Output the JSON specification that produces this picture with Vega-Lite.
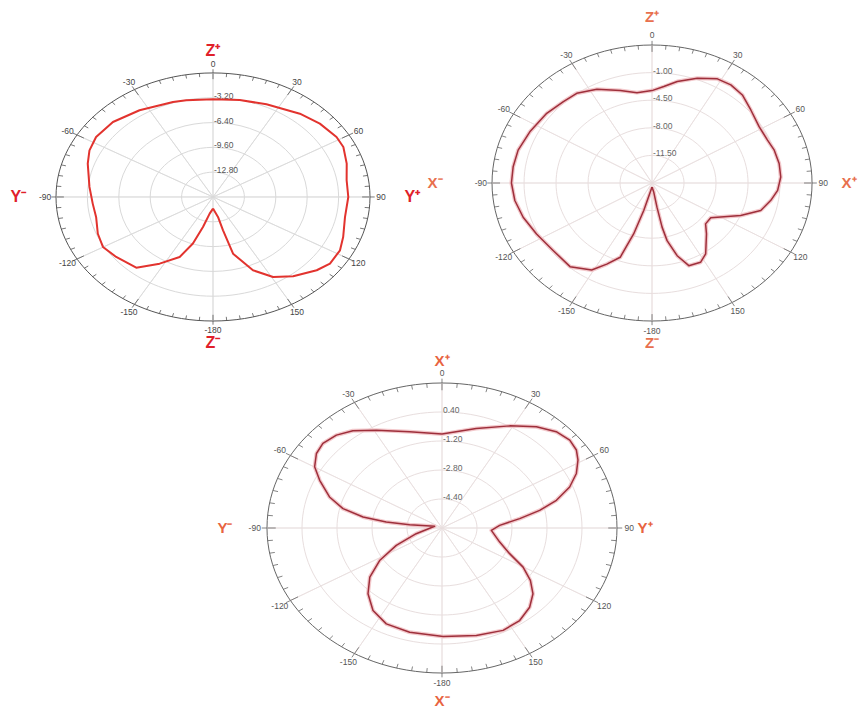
{
  "$schema": "https://vega.github.io/schema/vega-lite/v6.json",
  "datasets": {
    "rings": [{"r": 0.2}, {"r": 0.4}, {"r": 0.6}, {"r": 0.8}, {"r": 1}],
    "ringlabels": [
      {"p": 1, "r": 0.8, "t": "-3.20"}, {"p": 1, "r": 0.6, "t": "-6.40"}, {"p": 1, "r": 0.4, "t": "-9.60"}, {"p": 1, "r": 0.2, "t": "-12.80"},
      {"p": 2, "r": 0.8, "t": "-1.00"}, {"p": 2, "r": 0.6, "t": "-4.50"}, {"p": 2, "r": 0.4, "t": "-8.00"}, {"p": 2, "r": 0.2, "t": "-11.50"},
      {"p": 3, "r": 0.8, "t": "0.40"}, {"p": 3, "r": 0.6, "t": "-1.20"}, {"p": 3, "r": 0.4, "t": "-2.80"}, {"p": 3, "r": 0.2, "t": "-4.40"}
    ],
    "angles": [
      {"a": 0, "t": "0"}, {"a": 30, "t": "30"}, {"a": 60, "t": "60"}, {"a": 90, "t": "90"}, {"a": 120, "t": "120"}, {"a": 150, "t": "150"},
      {"a": 180, "t": "-180"}, {"a": -150, "t": "-150"}, {"a": -120, "t": "-120"}, {"a": -90, "t": "-90"}, {"a": -60, "t": "-60"}, {"a": -30, "t": "-30"}
    ],
    "ticks": [
      {"a": 0}, {"a": 5}, {"a": 10}, {"a": 15}, {"a": 20}, {"a": 25}, {"a": 30}, {"a": 35}, {"a": 40}, {"a": 45}, {"a": 50}, {"a": 55},
      {"a": 60}, {"a": 65}, {"a": 70}, {"a": 75}, {"a": 80}, {"a": 85}, {"a": 90}, {"a": 95}, {"a": 100}, {"a": 105}, {"a": 110}, {"a": 115},
      {"a": 120}, {"a": 125}, {"a": 130}, {"a": 135}, {"a": 140}, {"a": 145}, {"a": 150}, {"a": 155}, {"a": 160}, {"a": 165}, {"a": 170}, {"a": 175},
      {"a": 180}, {"a": 185}, {"a": 190}, {"a": 195}, {"a": 200}, {"a": 205}, {"a": 210}, {"a": 215}, {"a": 220}, {"a": 225}, {"a": 230}, {"a": 235},
      {"a": 240}, {"a": 245}, {"a": 250}, {"a": 255}, {"a": 260}, {"a": 265}, {"a": 270}, {"a": 275}, {"a": 280}, {"a": 285}, {"a": 290}, {"a": 295},
      {"a": 300}, {"a": 305}, {"a": 310}, {"a": 315}, {"a": 320}, {"a": 325}, {"a": 330}, {"a": 335}, {"a": 340}, {"a": 345}, {"a": 350}, {"a": 355}
    ],
    "letters": [
      {"p": 1, "a": 0, "r": 1.18, "t": "Z⁺"}, {"p": 1, "a": 180, "r": 1.18, "t": "Z⁻"}, {"p": 1, "a": -90, "r": 1.24, "t": "Y⁻"}, {"p": 1, "a": 90, "r": 1.27, "t": "Y⁺"},
      {"p": 2, "a": 0, "r": 1.2, "t": "Z⁺"}, {"p": 2, "a": 180, "r": 1.162, "t": "Z⁻"}, {"p": 2, "a": -90, "r": 1.356, "t": "X⁻"}, {"p": 2, "a": 90, "r": 1.231, "t": "X⁺"},
      {"p": 3, "a": 0, "r": 1.155, "t": "X⁺"}, {"p": 3, "a": 180, "r": 1.19, "t": "X⁻"}, {"p": 3, "a": -90, "r": 1.24, "t": "Y⁻"}, {"p": 3, "a": 90, "r": 1.16, "t": "Y⁺"}
    ],
    "curves": [
      {"p": 1, "a": -180, "g": -14.5}, {"p": 1, "a": -171, "g": -13.82}, {"p": 1, "a": -165.2, "g": -12.0}, {"p": 1, "a": -161.2, "g": -9.65},
      {"p": 1, "a": -156.3, "g": -7.54}, {"p": 1, "a": -147.7, "g": -5.82}, {"p": 1, "a": -139.4, "g": -3.98}, {"p": 1, "a": -128.1, "g": -3.46},
      {"p": 1, "a": -119.9, "g": -3.06}, {"p": 1, "a": -112, "g": -3.34}, {"p": 1, "a": -102.2, "g": -3.81}, {"p": 1, "a": -94, "g": -3.71},
      {"p": 1, "a": -84.1, "g": -3.34}, {"p": 1, "a": -71.4, "g": -2.53}, {"p": 1, "a": -64.5, "g": -2.05}, {"p": 1, "a": -57, "g": -1.79},
      {"p": 1, "a": -46.5, "g": -1.94}, {"p": 1, "a": -33.8, "g": -2.54}, {"p": 1, "a": -18.4, "g": -3.09}, {"p": 1, "a": -12.3, "g": -3.23},
      {"p": 1, "a": 0, "g": -3.39}, {"p": 1, "a": 12.3, "g": -3.2}, {"p": 1, "a": 24.5, "g": -2.86}, {"p": 1, "a": 39.5, "g": -2.08},
      {"p": 1, "a": 49, "g": -1.57}, {"p": 1, "a": 58.4, "g": -1.22}, {"p": 1, "a": 64.1, "g": -1.23}, {"p": 1, "a": 72.5, "g": -1.71},
      {"p": 1, "a": 81, "g": -2.21}, {"p": 1, "a": 90, "g": -2.21}, {"p": 1, "a": 100.9, "g": -2.3}, {"p": 1, "a": 111.3, "g": -1.76},
      {"p": 1, "a": 118, "g": -1.34}, {"p": 1, "a": 125.8, "g": -1.3}, {"p": 1, "a": 131.8, "g": -1.82}, {"p": 1, "a": 141.4, "g": -2.9},
      {"p": 1, "a": 149.3, "g": -4.0}, {"p": 1, "a": 156.7, "g": -5.7}, {"p": 1, "a": 164.4, "g": -8.4}, {"p": 1, "a": 166.6, "g": -11.58},
      {"p": 1, "a": 168.8, "g": -13.38}, {"p": 1, "a": 180, "g": -14.5},

      {"p": 2, "a": -180, "g": -14.48}, {"p": 2, "a": -165.4, "g": -11.4}, {"p": 2, "a": -162.7, "g": -8.23}, {"p": 2, "a": -159.7, "g": -4.96},
      {"p": 2, "a": -154.3, "g": -3.59}, {"p": 2, "a": -149.1, "g": -2.14}, {"p": 2, "a": -139.8, "g": -1.11}, {"p": 2, "a": -128.5, "g": -1.21},
      {"p": 2, "a": -117.1, "g": -0.81}, {"p": 2, "a": -107.1, "g": -0.25}, {"p": 2, "a": -98.4, "g": 0.17}, {"p": 2, "a": -90, "g": 0.38},
      {"p": 2, "a": -82.3, "g": 0.33}, {"p": 2, "a": -74.1, "g": 0.23}, {"p": 2, "a": -64.1, "g": -0.14}, {"p": 2, "a": -52.5, "g": -0.48},
      {"p": 2, "a": -43.2, "g": -0.84}, {"p": 2, "a": -35.9, "g": -0.95}, {"p": 2, "a": -26.9, "g": -1.67}, {"p": 2, "a": -16.5, "g": -2.77},
      {"p": 2, "a": -8.2, "g": -3.42}, {"p": 2, "a": 0, "g": -3.28}, {"p": 2, "a": 6, "g": -2.7}, {"p": 2, "a": 12.1, "g": -1.84},
      {"p": 2, "a": 20.4, "g": -0.81}, {"p": 2, "a": 28.4, "g": 0.02}, {"p": 2, "a": 34.7, "g": 0.14}, {"p": 2, "a": 41.5, "g": -0.09},
      {"p": 2, "a": 49.4, "g": -0.77}, {"p": 2, "a": 58.6, "g": -1.28}, {"p": 2, "a": 66.7, "g": -1.25}, {"p": 2, "a": 72.7, "g": -1.0},
      {"p": 2, "a": 79.9, "g": -0.88}, {"p": 2, "a": 86.9, "g": -0.9}, {"p": 2, "a": 93.9, "g": -1.23}, {"p": 2, "a": 99.6, "g": -1.82},
      {"p": 2, "a": 106.3, "g": -2.61}, {"p": 2, "a": 113, "g": -4.47}, {"p": 2, "a": 124.5, "g": -7.21}, {"p": 2, "a": 131.5, "g": -7.18},
      {"p": 2, "a": 137.3, "g": -6.22}, {"p": 2, "a": 146.9, "g": -4.26}, {"p": 2, "a": 152.2, "g": -3.63}, {"p": 2, "a": 159, "g": -3.77},
      {"p": 2, "a": 163.4, "g": -5.38}, {"p": 2, "a": 167.3, "g": -7.51}, {"p": 2, "a": 168.9, "g": -9.3}, {"p": 2, "a": 170, "g": -11.89},
      {"p": 2, "a": 171, "g": -13.85}, {"p": 2, "a": 180, "g": -14.48},

      {"p": 3, "a": 0, "g": -0.82}, {"p": 3, "a": 15.9, "g": -0.29}, {"p": 3, "a": 28.8, "g": 0.43}, {"p": 3, "a": 37.7, "g": 1.06},
      {"p": 3, "a": 44.5, "g": 1.45}, {"p": 3, "a": 50.3, "g": 1.59}, {"p": 3, "a": 55, "g": 1.5}, {"p": 3, "a": 58.9, "g": 1.26},
      {"p": 3, "a": 63.9, "g": 0.84}, {"p": 3, "a": 68.8, "g": 0.26}, {"p": 3, "a": 73.7, "g": -0.55}, {"p": 3, "a": 77.7, "g": -1.43},
      {"p": 3, "a": 81.7, "g": -2.41}, {"p": 3, "a": 86.9, "g": -3.36}, {"p": 3, "a": 93.3, "g": -3.74}, {"p": 3, "a": 106.4, "g": -3.25},
      {"p": 3, "a": 114.6, "g": -2.6}, {"p": 3, "a": 120.2, "g": -1.71}, {"p": 3, "a": 125.6, "g": -1.03}, {"p": 3, "a": 131.1, "g": -0.48},
      {"p": 3, "a": 137.5, "g": -0.07}, {"p": 3, "a": 145.2, "g": 0.22}, {"p": 3, "a": 153.7, "g": 0.3}, {"p": 3, "a": 165.2, "g": 0.14},
      {"p": 3, "a": 179.5, "g": -0.01}, {"p": 3, "a": -165.6, "g": -0.06}, {"p": 3, "a": -154.3, "g": -0.13}, {"p": 3, "a": -145.3, "g": -0.46},
      {"p": 3, "a": -137, "g": -1.04}, {"p": 3, "a": -129.4, "g": -1.73}, {"p": 3, "a": -122.2, "g": -2.63}, {"p": 3, "a": -114.7, "g": -3.7},
      {"p": 3, "a": -104.9, "g": -4.78}, {"p": 3, "a": -74, "g": -5.65}, {"p": 3, "a": -82.9, "g": -4.51}, {"p": 3, "a": -82.7, "g": -3.43},
      {"p": 3, "a": -80.4, "g": -2.34}, {"p": 3, "a": -76.7, "g": -1.35}, {"p": 3, "a": -71.6, "g": -0.58}, {"p": 3, "a": -64.8, "g": 0.18},
      {"p": 3, "a": -59.9, "g": 0.73}, {"p": 3, "a": -54.4, "g": 1.06}, {"p": 3, "a": -49.4, "g": 1.17}, {"p": 3, "a": -43.3, "g": 1.04},
      {"p": 3, "a": -37.2, "g": 0.74}, {"p": 3, "a": -29.1, "g": 0.18}, {"p": 3, "a": -15.6, "g": -0.49}, {"p": 3, "a": 0, "g": -0.82}
    ]
  },
  "spacing": 0,
  "resolve": {"scale": {"x": "independent", "y": "independent", "size": "independent"}},
  "vconcat": [
    {
      "spacing": 0,
      "bounds": "flush",
      "resolve": {"scale": {"x": "independent", "y": "independent", "size": "independent"}},
      "hconcat": [
        {
          "width": 416,
          "height": 342,
          "layer": [
            {
              "data": {"name": "rings"},
              "mark": {"type": "point", "shape": "M-1,0A1,0.79,0,1,1,1,0A1,0.79,0,1,1,-1,0Z", "filled": false, "opacity": 1, "strokeWidth": 1},
              "encoding": {
                "x": {"datum": 0, "type": "quantitative", "scale": {"domain": [-1.325, 1.325]}, "axis": null},
                "y": {"datum": 0, "type": "quantitative", "scale": {"domain": [-1.2097, 1.548]}, "axis": null},
                "size": {"field": "r", "type": "quantitative", "scale": {"type": "pow", "exponent": 2, "domain": [0, 1], "range": [0, 98596]}, "legend": null},
                "stroke": {"condition": {"test": "datum.r === 1", "value": "#555555"}, "value": "#d9d9d9"}
              }
            },
            {
              "data": {"name": "angles"},
              "transform": [
                {"calculate": "-sin(datum.a * PI / 180)", "as": "sx1"},
                {"calculate": "-cos(datum.a * PI / 180)", "as": "sy1"},
                {"calculate": "sin(datum.a * PI / 180)", "as": "sx2"},
                {"calculate": "cos(datum.a * PI / 180)", "as": "sy2"}
              ],
              "mark": {"type": "rule", "stroke": "#d9d9d9", "strokeWidth": 0.8},
              "encoding": {
                "x": {"field": "sx1", "type": "quantitative", "scale": {"domain": [-1.325, 1.325]}, "axis": null},
                "y": {"field": "sy1", "type": "quantitative", "scale": {"domain": [-1.2097, 1.548]}, "axis": null},
                "x2": {"field": "sx2"},
                "y2": {"field": "sy2"}
              }
            },
            {
              "data": {"name": "ticks"},
              "transform": [
                {"calculate": "datum.a % 30 === 0 ? 0.95 : 0.97", "as": "k1"},
                {"calculate": "datum.a % 30 === 0 ? 1.03 : 1", "as": "k2"},
                {"calculate": "datum.k1 * sin(datum.a * PI / 180)", "as": "tx1"},
                {"calculate": "datum.k1 * cos(datum.a * PI / 180)", "as": "ty1"},
                {"calculate": "datum.k2 * sin(datum.a * PI / 180)", "as": "tx2"},
                {"calculate": "datum.k2 * cos(datum.a * PI / 180)", "as": "ty2"}
              ],
              "mark": {"type": "rule", "stroke": "#555555", "strokeWidth": 0.8},
              "encoding": {
                "x": {"field": "tx1", "type": "quantitative", "scale": {"domain": [-1.325, 1.325]}, "axis": null},
                "y": {"field": "ty1", "type": "quantitative", "scale": {"domain": [-1.2097, 1.548]}, "axis": null},
                "x2": {"field": "tx2"},
                "y2": {"field": "ty2"}
              }
            },
            {
              "data": {"name": "ringlabels"},
              "transform": [{"filter": "datum.p === 1"}],
              "mark": {"type": "text", "align": "left", "baseline": "middle", "dx": 1, "dy": -2, "fontSize": 8.5, "fill": "#555555", "font": "Liberation Sans"},
              "encoding": {
                "x": {"datum": 0, "type": "quantitative", "scale": {"domain": [-1.325, 1.325]}, "axis": null},
                "y": {"field": "r", "type": "quantitative", "scale": {"domain": [-1.2097, 1.548]}, "axis": null},
                "text": {"field": "t"}
              }
            },
            {
              "data": {"name": "angles"},
              "transform": [
                {"calculate": "1.07 * sin(datum.a * PI / 180)", "as": "lx"},
                {"calculate": "1.07 * cos(datum.a * PI / 180)", "as": "ly"}
              ],
              "mark": {"type": "text", "align": "center", "baseline": "middle", "fontSize": 8.5, "fill": "#444444", "font": "Liberation Sans"},
              "encoding": {
                "x": {"field": "lx", "type": "quantitative", "scale": {"domain": [-1.325, 1.325]}, "axis": null},
                "y": {"field": "ly", "type": "quantitative", "scale": {"domain": [-1.2097, 1.548]}, "axis": null},
                "text": {"field": "t"}
              }
            },
            {
              "data": {"name": "letters"},
              "transform": [
                {"filter": "datum.p === 1"},
                {"calculate": "datum.r * sin(datum.a * PI / 180)", "as": "lx"},
                {"calculate": "datum.r * cos(datum.a * PI / 180)", "as": "ly"}
              ],
              "mark": {"type": "text", "align": "center", "baseline": "middle", "fontSize": 16, "fontWeight": "bold", "fill": "#e0202a", "font": "Liberation Sans"},
              "encoding": {
                "x": {"field": "lx", "type": "quantitative", "scale": {"domain": [-1.325, 1.325]}, "axis": null},
                "y": {"field": "ly", "type": "quantitative", "scale": {"domain": [-1.2097, 1.548]}, "axis": null},
                "text": {"field": "t"}
              }
            },
            {
              "data": {"name": "curves"},
              "transform": [
                {"filter": "datum.p === 1"},
                {"calculate": "(datum.g + 16) / 16", "as": "rr"},
                {"calculate": "datum.rr * sin(datum.a * PI / 180)", "as": "cx"},
                {"calculate": "datum.rr * cos(datum.a * PI / 180)", "as": "cy"}
              ],
              "mark": {"type": "line", "color": "#e2332e", "strokeWidth": 2, "strokeJoin": "round"},
              "encoding": {
                "x": {"field": "cx", "type": "quantitative", "scale": {"domain": [-1.325, 1.325]}, "axis": null},
                "y": {"field": "cy", "type": "quantitative", "scale": {"domain": [-1.2097, 1.548]}, "axis": null},
                "order": {"value": null}
              }
            }
          ]
        },
        {
          "width": 432,
          "height": 342,
          "layer": [
            {
              "data": {"name": "rings"},
              "mark": {"type": "point", "shape": "M-1,0A1,0.8625,0,1,1,1,0A1,0.8625,0,1,1,-1,0Z", "filled": false, "opacity": 1, "strokeWidth": 1},
              "encoding": {
                "x": {"datum": 0, "type": "quantitative", "scale": {"domain": [-1.444, 1.256]}, "axis": null},
                "y": {"datum": 0, "type": "quantitative", "scale": {"domain": [-1.1884, 1.29]}, "axis": null},
                "size": {"field": "r", "type": "quantitative", "scale": {"type": "pow", "exponent": 2, "domain": [0, 1], "range": [0, 102400]}, "legend": null},
                "stroke": {"condition": {"test": "datum.r === 1", "value": "#666666"}, "value": "#e8dede"}
              }
            },
            {
              "data": {"name": "angles"},
              "transform": [
                {"calculate": "-sin(datum.a * PI / 180)", "as": "sx1"},
                {"calculate": "-cos(datum.a * PI / 180)", "as": "sy1"},
                {"calculate": "sin(datum.a * PI / 180)", "as": "sx2"},
                {"calculate": "cos(datum.a * PI / 180)", "as": "sy2"}
              ],
              "mark": {"type": "rule", "stroke": "#e8dede", "strokeWidth": 0.8},
              "encoding": {
                "x": {"field": "sx1", "type": "quantitative", "scale": {"domain": [-1.444, 1.256]}, "axis": null},
                "y": {"field": "sy1", "type": "quantitative", "scale": {"domain": [-1.1884, 1.29]}, "axis": null},
                "x2": {"field": "sx2"},
                "y2": {"field": "sy2"}
              }
            },
            {
              "data": {"name": "ticks"},
              "transform": [
                {"calculate": "datum.a % 30 === 0 ? 0.95 : 0.97", "as": "k1"},
                {"calculate": "datum.a % 30 === 0 ? 1.03 : 1", "as": "k2"},
                {"calculate": "datum.k1 * sin(datum.a * PI / 180)", "as": "tx1"},
                {"calculate": "datum.k1 * cos(datum.a * PI / 180)", "as": "ty1"},
                {"calculate": "datum.k2 * sin(datum.a * PI / 180)", "as": "tx2"},
                {"calculate": "datum.k2 * cos(datum.a * PI / 180)", "as": "ty2"}
              ],
              "mark": {"type": "rule", "stroke": "#666666", "strokeWidth": 0.8},
              "encoding": {
                "x": {"field": "tx1", "type": "quantitative", "scale": {"domain": [-1.444, 1.256]}, "axis": null},
                "y": {"field": "ty1", "type": "quantitative", "scale": {"domain": [-1.1884, 1.29]}, "axis": null},
                "x2": {"field": "tx2"},
                "y2": {"field": "ty2"}
              }
            },
            {
              "data": {"name": "ringlabels"},
              "transform": [{"filter": "datum.p === 2"}],
              "mark": {"type": "text", "align": "left", "baseline": "middle", "dx": 1, "dy": -2, "fontSize": 8.5, "fill": "#666666", "font": "Liberation Sans"},
              "encoding": {
                "x": {"datum": 0, "type": "quantitative", "scale": {"domain": [-1.444, 1.256]}, "axis": null},
                "y": {"field": "r", "type": "quantitative", "scale": {"domain": [-1.1884, 1.29]}, "axis": null},
                "text": {"field": "t"}
              }
            },
            {
              "data": {"name": "angles"},
              "transform": [
                {"calculate": "1.07 * sin(datum.a * PI / 180)", "as": "lx"},
                {"calculate": "1.07 * cos(datum.a * PI / 180)", "as": "ly"}
              ],
              "mark": {"type": "text", "align": "center", "baseline": "middle", "fontSize": 8.5, "fill": "#555555", "font": "Liberation Sans"},
              "encoding": {
                "x": {"field": "lx", "type": "quantitative", "scale": {"domain": [-1.444, 1.256]}, "axis": null},
                "y": {"field": "ly", "type": "quantitative", "scale": {"domain": [-1.1884, 1.29]}, "axis": null},
                "text": {"field": "t"}
              }
            },
            {
              "data": {"name": "letters"},
              "transform": [
                {"filter": "datum.p === 2"},
                {"calculate": "datum.r * sin(datum.a * PI / 180)", "as": "lx"},
                {"calculate": "datum.r * cos(datum.a * PI / 180)", "as": "ly"}
              ],
              "mark": {"type": "text", "align": "center", "baseline": "middle", "fontSize": 15, "fontWeight": "bold", "fill": "#e8704e", "font": "Liberation Sans"},
              "encoding": {
                "x": {"field": "lx", "type": "quantitative", "scale": {"domain": [-1.444, 1.256]}, "axis": null},
                "y": {"field": "ly", "type": "quantitative", "scale": {"domain": [-1.1884, 1.29]}, "axis": null},
                "text": {"field": "t"}
              }
            },
            {
              "data": {"name": "curves"},
              "transform": [
                {"filter": "datum.p === 2"},
                {"calculate": "(datum.g + 15) / 17.5", "as": "rr"},
                {"calculate": "datum.rr * sin(datum.a * PI / 180)", "as": "cx"},
                {"calculate": "datum.rr * cos(datum.a * PI / 180)", "as": "cy"}
              ],
              "mark": {"type": "line", "color": "#f3c9cc", "strokeWidth": 4, "strokeJoin": "round"},
              "encoding": {
                "x": {"field": "cx", "type": "quantitative", "scale": {"domain": [-1.444, 1.256]}, "axis": null},
                "y": {"field": "cy", "type": "quantitative", "scale": {"domain": [-1.1884, 1.29]}, "axis": null},
                "order": {"value": null}
              }
            },
            {
              "data": {"name": "curves"},
              "transform": [
                {"filter": "datum.p === 2"},
                {"calculate": "(datum.g + 15) / 17.5", "as": "rr"},
                {"calculate": "datum.rr * sin(datum.a * PI / 180)", "as": "cx"},
                {"calculate": "datum.rr * cos(datum.a * PI / 180)", "as": "cy"}
              ],
              "mark": {"type": "line", "color": "#9e2f3b", "strokeWidth": 1.5, "strokeJoin": "round"},
              "encoding": {
                "x": {"field": "cx", "type": "quantitative", "scale": {"domain": [-1.444, 1.256]}, "axis": null},
                "y": {"field": "cy", "type": "quantitative", "scale": {"domain": [-1.1884, 1.29]}, "axis": null},
                "order": {"value": null}
              }
            }
          ]
        }
      ]
    },
    {
      "width": 660,
      "height": 352,
      "layer": [
        {
          "data": {"name": "rings"},
          "mark": {"type": "point", "shape": "M-1,0A1,0.8286,0,1,1,1,0A1,0.8286,0,1,1,-1,0Z", "filled": false, "opacity": 1, "strokeWidth": 1},
          "encoding": {
            "x": {"datum": 0, "type": "quantitative", "scale": {"domain": [-2.4971, 1.2743]}, "axis": null},
            "y": {"datum": 0, "type": "quantitative", "scale": {"domain": [-1.2138, 1.2138]}, "axis": null},
            "size": {"field": "r", "type": "quantitative", "scale": {"type": "pow", "exponent": 2, "domain": [0, 1], "range": [0, 122500]}, "legend": null},
            "stroke": {"condition": {"test": "datum.r === 1", "value": "#666666"}, "value": "#e8dede"}
          }
        },
        {
          "data": {"name": "angles"},
          "transform": [
            {"calculate": "-sin(datum.a * PI / 180)", "as": "sx1"},
            {"calculate": "-cos(datum.a * PI / 180)", "as": "sy1"},
            {"calculate": "sin(datum.a * PI / 180)", "as": "sx2"},
            {"calculate": "cos(datum.a * PI / 180)", "as": "sy2"}
          ],
          "mark": {"type": "rule", "stroke": "#e8dede", "strokeWidth": 0.8},
          "encoding": {
            "x": {"field": "sx1", "type": "quantitative", "scale": {"domain": [-2.4971, 1.2743]}, "axis": null},
            "y": {"field": "sy1", "type": "quantitative", "scale": {"domain": [-1.2138, 1.2138]}, "axis": null},
            "x2": {"field": "sx2"},
            "y2": {"field": "sy2"}
          }
        },
        {
          "data": {"name": "ticks"},
          "transform": [
            {"calculate": "datum.a % 30 === 0 ? 0.95 : 0.97", "as": "k1"},
            {"calculate": "datum.a % 30 === 0 ? 1.03 : 1", "as": "k2"},
            {"calculate": "datum.k1 * sin(datum.a * PI / 180)", "as": "tx1"},
            {"calculate": "datum.k1 * cos(datum.a * PI / 180)", "as": "ty1"},
            {"calculate": "datum.k2 * sin(datum.a * PI / 180)", "as": "tx2"},
            {"calculate": "datum.k2 * cos(datum.a * PI / 180)", "as": "ty2"}
          ],
          "mark": {"type": "rule", "stroke": "#666666", "strokeWidth": 0.8},
          "encoding": {
            "x": {"field": "tx1", "type": "quantitative", "scale": {"domain": [-2.4971, 1.2743]}, "axis": null},
            "y": {"field": "ty1", "type": "quantitative", "scale": {"domain": [-1.2138, 1.2138]}, "axis": null},
            "x2": {"field": "tx2"},
            "y2": {"field": "ty2"}
          }
        },
        {
          "data": {"name": "ringlabels"},
          "transform": [{"filter": "datum.p === 3"}],
          "mark": {"type": "text", "align": "left", "baseline": "middle", "dx": 1, "dy": -2, "fontSize": 8.5, "fill": "#666666", "font": "Liberation Sans"},
          "encoding": {
            "x": {"datum": 0, "type": "quantitative", "scale": {"domain": [-2.4971, 1.2743]}, "axis": null},
            "y": {"field": "r", "type": "quantitative", "scale": {"domain": [-1.2138, 1.2138]}, "axis": null},
            "text": {"field": "t"}
          }
        },
        {
          "data": {"name": "angles"},
          "transform": [
            {"calculate": "1.07 * sin(datum.a * PI / 180)", "as": "lx"},
            {"calculate": "1.07 * cos(datum.a * PI / 180)", "as": "ly"}
          ],
          "mark": {"type": "text", "align": "center", "baseline": "middle", "fontSize": 8.5, "fill": "#555555", "font": "Liberation Sans"},
          "encoding": {
            "x": {"field": "lx", "type": "quantitative", "scale": {"domain": [-2.4971, 1.2743]}, "axis": null},
            "y": {"field": "ly", "type": "quantitative", "scale": {"domain": [-1.2138, 1.2138]}, "axis": null},
            "text": {"field": "t"}
          }
        },
        {
          "data": {"name": "letters"},
          "transform": [
            {"filter": "datum.p === 3"},
            {"calculate": "datum.r * sin(datum.a * PI / 180)", "as": "lx"},
            {"calculate": "datum.r * cos(datum.a * PI / 180)", "as": "ly"}
          ],
          "mark": {"type": "text", "align": "center", "baseline": "middle", "fontSize": 15, "fontWeight": "bold", "fill": "#e8643f", "font": "Liberation Sans"},
          "encoding": {
            "x": {"field": "lx", "type": "quantitative", "scale": {"domain": [-2.4971, 1.2743]}, "axis": null},
            "y": {"field": "ly", "type": "quantitative", "scale": {"domain": [-1.2138, 1.2138]}, "axis": null},
            "text": {"field": "t"}
          }
        },
        {
          "data": {"name": "curves"},
          "transform": [
            {"filter": "datum.p === 3"},
            {"calculate": "(datum.g + 6) / 8", "as": "rr"},
            {"calculate": "datum.rr * sin(datum.a * PI / 180)", "as": "cx"},
            {"calculate": "datum.rr * cos(datum.a * PI / 180)", "as": "cy"}
          ],
          "mark": {"type": "line", "color": "#f3c9cc", "strokeWidth": 4, "strokeJoin": "round"},
          "encoding": {
            "x": {"field": "cx", "type": "quantitative", "scale": {"domain": [-2.4971, 1.2743]}, "axis": null},
            "y": {"field": "cy", "type": "quantitative", "scale": {"domain": [-1.2138, 1.2138]}, "axis": null},
            "order": {"value": null}
          }
        },
        {
          "data": {"name": "curves"},
          "transform": [
            {"filter": "datum.p === 3"},
            {"calculate": "(datum.g + 6) / 8", "as": "rr"},
            {"calculate": "datum.rr * sin(datum.a * PI / 180)", "as": "cx"},
            {"calculate": "datum.rr * cos(datum.a * PI / 180)", "as": "cy"}
          ],
          "mark": {"type": "line", "color": "#9e2f3b", "strokeWidth": 1.5, "strokeJoin": "round"},
          "encoding": {
            "x": {"field": "cx", "type": "quantitative", "scale": {"domain": [-2.4971, 1.2743]}, "axis": null},
            "y": {"field": "cy", "type": "quantitative", "scale": {"domain": [-1.2138, 1.2138]}, "axis": null},
            "order": {"value": null}
          }
        }
      ]
    }
  ],
  "config": {"view": {"stroke": null}, "text": {"font": "Liberation Sans"}}
}
